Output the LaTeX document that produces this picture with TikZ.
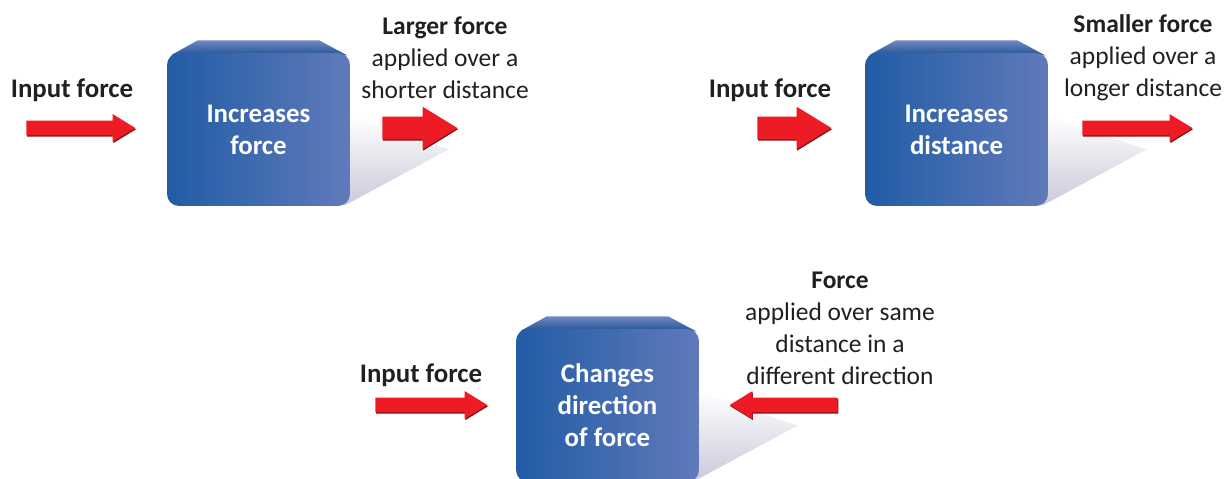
\documentclass[tikz,border=0pt]{standalone}
\usepackage{fontspec}
\setmainfont{Carlito}
\usetikzlibrary{shapes.arrows,shadows}
\definecolor{pushred}{RGB}{237,28,36}
\definecolor{boxdark}{RGB}{33,92,165}
\definecolor{boxlight}{RGB}{96,122,186}
\definecolor{inktext}{RGB}{35,31,32}

\begin{document}
\begin{tikzpicture}[x=0.02cm, y=-0.02cm, font=\fontsize{14.5}{18.2}\selectfont, text=inktext,
  machine/.style = {rounded corners=0.24cm, left color=boxdark, right color=boxlight,
    minimum width=3.66cm, minimum height=3.06cm, align=center, text=white, font=\fontsize{15.3}{18.2}\selectfont\bfseries},
  arrowsmall/.style = {single arrow, fill=pushred, inner xsep=0pt, inner ysep=0.14cm, anchor=tail,
    single arrow head extend=0.13cm, single arrow tip angle=63,
    drop shadow={shadow xshift=0.4pt, shadow yshift=-0.7pt, fill=pushred!55!black, opacity=1}},
  arrowbig/.style = {arrowsmall, inner ysep=0.22cm, single arrow head extend=0.2cm},
  words/.style = {align=center},
  title/.style = {font=\fontsize{15.3}{18.2}\selectfont\bfseries}]
\useasboundingbox (0,0) rectangle (1224,479);

% bevels and shadows first, the boxes go on top
\foreach \cx/\cy in {258.5/129.5, 956.5/129.5, 607.5/405.5} {
  \shade[top color=white, bottom color=blue!20!gray!35]
    (\cx+86,\cy-15) -- (\cx+190,\cy+20) -- (\cx+86,\cy+76) -- cycle;
  \shade[top color=boxlight!90!white, bottom color=boxdark!90!black]
    (\cx-88,\cy-74) -- (\cx-61,\cy-89) -- (\cx+61,\cy-89) -- (\cx+89,\cy-74) -- cycle;
}

\node[machine] (m1) at (258.5,129.5) {Increases\\force};
\node[machine] (m2) at (956.5,129.5) {Increases\\distance};
\node[machine] (m3) at (607.5,405.5) {Changes\\direction\\of force};

\node[title] (in1) at (72,90) {Input force};
\node[title] (in2) at (770,90) {Input force};
\node[title] (in3) at (421,375) {Input force};
\node[words] (out1) at (445,58) {\textbf{Larger force}\\applied over a\\shorter distance};
\node[words] (out2) at (1143,58) {\textbf{Smaller force}\\applied over a\\longer distance};
\node[words] (out3) at (840,328) {\textbf{Force}\\applied over same\\distance in a\\different direction};

\node[arrowsmall, minimum height=2.18cm] (a1) at (26,128) {};
\node[arrowbig, minimum height=1.5cm] (a2) at (382,128) {};
\node[arrowbig, minimum height=1.48cm] (a3) at (757,128) {};
\node[arrowsmall, minimum height=2.2cm] (a4) at (1082,128) {};
\node[arrowsmall, minimum height=2.24cm] (a5) at (375,405) {};
\node[arrowsmall, minimum height=2.16cm, shape border rotate=180] (a6) at (838,405) {};
\end{tikzpicture}
\end{document}
